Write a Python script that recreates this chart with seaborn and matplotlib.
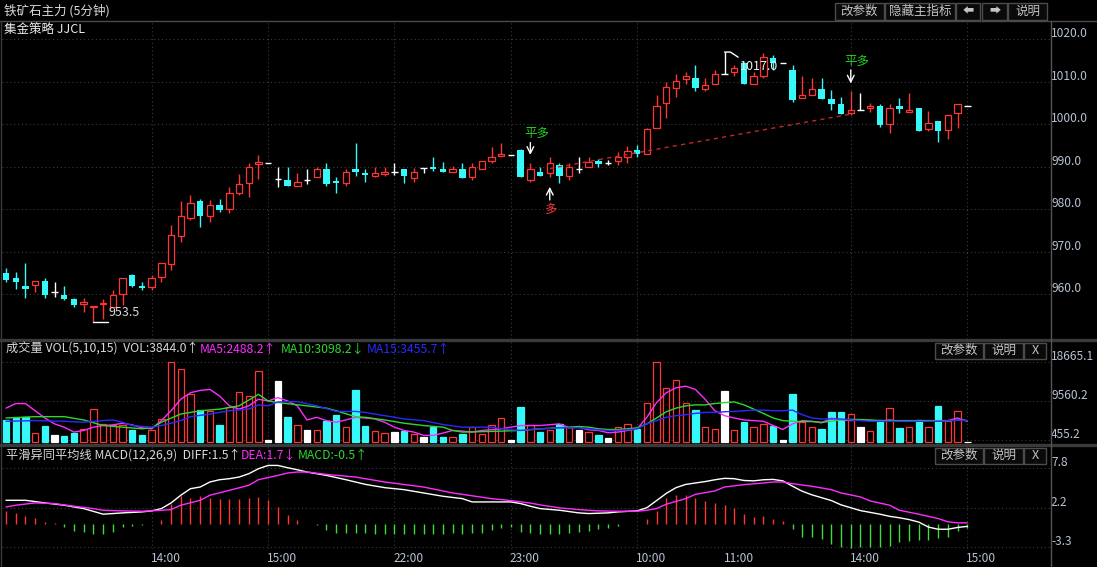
import matplotlib
matplotlib.use('Agg')
import matplotlib.pyplot as plt
import matplotlib.transforms as mtrans
from matplotlib.lines import Line2D
from matplotlib.patches import Rectangle
import seaborn as sns

## DATA

# 5-minute candles, index 0..99
opens = [964.9, 963.75, 962.0, 962.2, 963.2, 960.5, 959.8, 958.8, 957.6, 957.0,
         957.6, 957.1, 960.0, 964.5, 962.0, 961.8, 964.15, 967.1, 973.6, 977.9,
         982.0, 978.4, 981.0, 980.0, 983.9, 986.1, 990.6, 990.8, 987.05, 986.9,
         985.6, 986.9, 987.5, 989.4, 986.6, 986.1, 989.4, 988.5, 987.9, 988.3,
         988.7, 989.4, 987.4, 989.8, 990.0, 989.5, 988.85, 989.4, 987.5, 989.6,
         991.4, 992.5, 992.8, 993.95, 986.9, 988.7, 988.5, 990.4, 987.9, 989.4,
         990.0, 991.4, 991.0, 991.45, 992.4, 993.95, 992.9, 999.05, 1004.9, 1008.5,
         1010.6, 1010.8, 1008.3, 1009.5, 1011.8, 1012.2, 1014.35, 1009.4, 1011.4, 1015.5,
         1014.35, 1012.8, 1006.3, 1006.9, 1008.2, 1005.95, 1004.8, 1002.6, 1003.3, 1003.75,
         1004.3, 1000.0, 1004.3, 1003.0, 1003.75, 998.8, 1000.8, 998.7, 1002.6, 1004.2]
highs = [966.3, 965.3, 967.3, 963.2, 963.75, 962.8, 962.0, 959.1, 959.1, 957.3,
         958.8, 961.0, 963.75, 964.8, 962.8, 964.5, 967.3, 976.3, 982.0, 983.4,
         982.35, 982.2, 982.35, 985.3, 988.3, 990.8, 992.8, 990.8, 989.9, 989.9,
         988.5, 989.4, 990.0, 991.0, 987.5, 989.4, 995.7, 989.4, 989.9, 989.9,
         990.8, 989.4, 989.8, 989.8, 992.2, 991.2, 990.3, 990.8, 990.8, 991.4,
         994.7, 995.7, 992.8, 994.3, 990.8, 989.9, 992.2, 990.8, 990.8, 992.2,
         992.2, 991.8, 991.7, 993.6, 994.9, 995.1, 999.1, 1006.9, 1010.0, 1011.8,
         1012.2, 1013.95, 1010.8, 1012.8, 1017.0, 1013.95, 1014.6, 1012.2, 1016.7, 1016.3,
         1014.35, 1013.95, 1011.4, 1010.8, 1010.8, 1008.1, 1006.5, 1007.8, 1007.4, 1005.1,
         1004.8, 1004.8, 1006.3, 1007.4, 1003.75, 1003.2, 1000.8, 1002.3, 1004.7, 1004.2]
lows = [963.0, 961.2, 959.1, 960.6, 959.1, 959.4, 958.65, 957.1, 955.9, 953.5,
        954.3, 957.1, 957.5, 961.8, 961.0, 961.0, 963.0, 965.7, 972.4, 977.5,
        975.9, 977.1, 979.45, 979.1, 983.4, 983.0, 987.1, 990.8, 985.2, 985.6,
        985.6, 985.95, 987.5, 985.5, 983.9, 985.5, 987.8, 986.5, 987.5, 987.8,
        988.1, 986.1, 986.5, 988.5, 988.9, 988.85, 988.85, 987.4, 986.9, 989.6,
        991.0, 992.5, 992.8, 987.5, 986.5, 987.9, 987.5, 986.1, 986.9, 988.5,
        990.0, 990.0, 990.5, 990.4, 990.8, 992.4, 992.9, 999.05, 1001.6, 1006.5,
        1009.5, 1007.9, 1007.9, 1009.5, 1011.8, 1011.4, 1009.4, 1009.4, 1011.0, 1012.8,
        1014.35, 1005.3, 1006.1, 1006.9, 1005.95, 1003.4, 1002.4, 1002.2, 1003.3, 1003.0,
        999.3, 998.0, 1002.6, 1003.0, 998.5, 998.5, 995.9, 996.5, 999.05, 1004.2]
closes = [963.4, 963.0, 961.2, 963.2, 959.8, 960.5, 958.9, 957.5, 958.3, 957.3,
          958.0, 959.8, 963.75, 962.0, 961.4, 963.75, 967.3, 974.0, 978.4, 981.6,
          978.4, 981.0, 979.8, 983.8, 986.0, 989.9, 991.2, 990.8, 987.05, 985.6,
          986.35, 986.9, 989.4, 985.95, 986.1, 988.8, 988.85, 988.1, 988.5, 988.85,
          988.7, 987.8, 988.7, 989.8, 989.4, 988.85, 989.4, 987.4, 989.9, 991.4,
          992.2, 992.9, 992.8, 987.5, 989.4, 987.9, 990.8, 987.9, 990.0, 989.4,
          991.2, 990.6, 991.0, 992.3, 993.8, 992.9, 998.8, 1004.2, 1008.7, 1010.3,
          1011.4, 1008.5, 1009.2, 1011.8, 1011.8, 1013.2, 1009.4, 1011.4, 1015.9, 1014.5,
          1014.35, 1005.7, 1006.9, 1008.2, 1005.95, 1004.8, 1002.4, 1003.4, 1003.3, 1004.3,
          999.8, 1003.75, 1003.5, 1003.4, 998.5, 1000.2, 998.5, 1002.3, 1004.7, 1004.2]

volumes = [5168, 5624, 5928, 2204, 3876, 1596, 1368, 2204, 3116, 7676,
           4256, 4028, 4028, 2736, 1596, 2888, 5396, 18665.1, 17024, 11096,
           7448, 7144, 4104, 8056, 11628, 10716, 16568, 456, 14136, 5928,
           4028, 2736, 2736, 5016, 6384, 3648, 12008, 3876, 2508, 2204,
           2356, 2584, 1976, 1216, 3648, 1216, 1216, 1824, 3496, 1976,
           4028, 5624, 456, 8208, 4028, 2356, 2736, 4256, 3496, 2736,
           2356, 1596, 988, 3496, 4256, 3116, 9196, 18600, 12464, 14516,
           9196, 7448, 3648, 2964, 11856, 2736, 4636, 3648, 4256, 3876,
           456, 11096, 4636, 3496, 2964, 7068, 6916, 6536, 3496, 2508,
           5168, 7904, 3268, 3496, 5168, 3496, 8436, 4864, 7220, 0]

ma5_x = [0, 1, 2, 3, 4, 5, 6, 7, 8, 9, 10, 11, 12, 13, 14, 15, 16, 17, 18, 19,
         20, 21, 22, 23, 24, 25, 26, 27, 28, 29, 30, 31, 32, 33, 34, 35, 36, 37, 38, 39,
         40, 41, 42, 43, 44, 45, 46, 47, 48, 49, 50, 51, 53, 55, 57, 58, 59, 60, 61, 62,
         63, 64, 65, 66, 67, 68, 69, 70, 71, 72, 73, 74, 75, 76, 77, 78, 79, 80, 81, 82,
         83, 84, 85, 86, 87, 88, 89, 90, 91, 92, 93, 94, 95, 96, 97, 98, 99]
ma5_y = [7904, 8968, 8968, 7296, 5624, 4256, 3496, 2356, 2736, 3496,
         3876, 4028, 4408, 4028, 3344, 3116, 5016, 7296, 9956, 11476,
         12008, 12236, 10716, 8436, 7676, 8436, 9956, 9576, 10336, 9576,
         8436, 5168, 5776, 5016, 4636, 5168, 5776, 5624, 5396, 4636,
         3496, 2736, 2356, 1596, 1596, 2128, 2736, 2584, 2356, 2736,
         2888, 3116, 3876, 3876,
         4256, 3344, 3496, 2888, 2736, 2204, 2356, 2736, 3116, 5776,
         9196, 11476, 12616, 12996, 12236, 9956, 7296, 6156, 5624, 5168,
         5016, 4864, 3876, 2964, 4256, 5016, 4864, 4484, 5624, 5168,
         5016, 5168, 5016, 4864, 5168, 4864, 4864, 4864, 4864, 5016,
         5016, 5624, 4864]

ma10_x = [0, 3, 6, 8, 10, 12, 14, 15, 16, 18, 20, 22, 24, 26, 27, 28, 31, 33, 34, 36,
          37, 39, 41, 43, 45, 46, 47, 50, 53, 55, 57, 59, 60, 61, 62, 63, 64, 65, 66, 67,
          68, 69, 70, 71, 72, 73, 74, 75, 76, 77, 78, 79, 80, 81, 82, 83, 84, 85, 86, 87,
          88, 89, 90, 92, 94, 96, 97, 98, 99]
ma10_y = [5624, 5928, 5928, 5168, 3876, 3496, 3116, 3344, 4636, 6536,
          7296, 7676, 8436, 11096, 9576, 9196, 8436, 7904, 7296, 5928,
          5776, 5168, 4408, 3876, 3496, 2736, 2356, 2508, 2736, 3116,
          3344, 3648, 3496, 3116, 2964, 2964, 3116, 3344, 4256, 5624,
          7068, 7904, 8436, 8664, 8664, 8968, 9196, 9348, 8664, 7676,
          6688, 5624, 5016, 4864, 4788, 4788, 4636, 4864, 5168, 5320,
          5244, 5168, 5016, 5016, 5016, 5016, 4940, 5168, 5016]

ma15_x = [0, 3, 6, 8, 10, 11, 12, 13, 15, 16, 17, 18, 19, 21, 23, 25, 26, 27, 28, 30,
          32, 34, 36, 37, 39, 41, 43, 45, 47, 50, 52, 53, 55, 57, 59, 60, 61, 62, 63, 64,
          65, 66, 67, 68, 69, 70, 71, 72, 73, 74, 75, 76, 77, 78, 79, 80, 81, 82, 83, 84,
          85, 86, 87, 88, 89, 90, 92, 94, 96, 97, 98, 99]
ma15_y = [4864, 5016, 4864, 4636, 5016, 5168, 4636, 3876, 3496, 3876,
          4408, 5016, 5928, 6536, 7296, 7676, 8664, 8436, 9348, 9424,
          8436, 7144, 7144, 6916, 6156, 5396, 5016, 4104, 3496, 3496,
          2888, 2736, 3116, 3344, 3344, 3116, 2888, 2736, 2736, 2888,
          3116, 4256, 5016, 5776, 6156, 6384, 6688, 6916, 6916, 7068,
          7144, 7296, 7448, 7448, 7296, 7296, 7448, 6384, 5624, 5396,
          5396, 5396, 5168, 5016, 4864, 4864, 4864, 4864, 4864, 4940,
          5168, 5016]

macd_hist = [1.76, 1.48, 1.02, 0.83, 0.23, 0.05, -0.46, -1.02, -1.16, -1.48,
             -1.48, -1.16, -0.46, -0.32, -0.14, -0.09, 0.46, 2.78, 3.80, 3.61,
             3.80, 3.61, 3.47, 3.38, 3.38, 3.61, 3.70, 3.24, 2.31, 1.16,
             0.46, -0.09, -0.23, -0.93, -1.30, -1.30, -1.39, -1.39, -1.48, -1.48,
             -1.48, -1.53, -1.53, -1.53, -1.53, -1.48, -1.39, -1.48, -1.39, -1.30,
             -0.93, -0.69, -0.50, -1.16, -1.39, -1.48, -1.48, -1.48, -1.30, -1.16,
             -1.02, -0.83, -0.69, -0.37, -0.09, -0.05, 0.60, 1.71, 3.61, 3.94,
             3.94, 3.61, 3.10, 2.87, 2.55, 2.22, 1.30, 0.93, 1.02, 0.69,
             0.32, -0.83, -1.85, -1.94, -2.22, -2.87, -3.33, -3.47, -3.33, -3.24,
             -3.33, -3.15, -2.55, -2.45, -2.31, -2.31, -2.08, -1.85, -1.02, -0.56]

diff_x = [0, 2, 4, 6, 8, 10, 12, 14, 15, 16, 17, 18, 19, 20, 21, 22, 23, 24, 25, 26,
          27, 28, 29, 30, 31, 33, 35, 37, 39, 41, 43, 45, 47, 48, 50, 52, 53, 54, 55, 57,
          59, 60, 62, 63, 65, 66, 67, 68, 69, 70, 71, 72, 73, 74, 75, 76, 77, 78, 79, 80,
          81, 82, 83, 84, 85, 86, 87, 88, 89, 90, 91, 92, 93, 94, 95, 96, 97, 98, 99]
diff_y = [3.24, 3.24, 2.87, 2.55, 2.08, 1.30, 1.48, 1.62, 1.76, 2.08,
          2.87, 3.94, 4.86, 5.09, 5.79, 6.11, 6.25, 6.48, 6.94, 7.64,
          8.10, 8.10, 7.78, 7.50, 7.18, 6.71, 6.11, 5.46, 5.00, 4.72,
          4.26, 3.80, 3.47, 3.01, 3.01, 3.01, 2.78, 2.41, 2.08, 1.85,
          1.48, 1.39, 1.48, 1.62, 1.76, 2.2, 3.2, 4.2, 5.0, 5.45,
          5.65, 5.85, 6.1, 6.3, 6.25, 6.0, 5.95, 6.1, 6.15, 5.95,
          5.2, 4.5, 4.0, 3.6, 3.2, 2.6, 2.2, 1.8, 1.55, 1.3,
          1.0, 0.8, 0.55, 0.2, -0.5, -0.8, -0.8, -0.55, -0.4]

dea_x = [0, 1, 3, 5, 7, 9, 10, 12, 14, 15, 17, 18, 20, 21, 23, 25, 26, 28, 29, 30,
         31, 33, 36, 39, 43, 46, 50, 52, 54, 55, 57, 59, 61, 63, 65, 66, 67, 68, 70, 71,
         73, 74, 76, 78, 79, 80, 81, 83, 85, 86, 88, 89, 91, 92, 94, 96, 97, 98, 99]
dea_y = [2.31, 2.55, 2.87, 2.78, 2.41, 2.08, 1.85, 1.76, 1.71, 1.76,
         1.94, 2.55, 3.24, 3.94, 4.63, 5.32, 6.11, 6.71, 7.04, 7.18,
         7.18, 6.85, 6.48, 5.79, 5.09, 4.26, 3.47, 3.2, 2.85, 2.6,
         2.18, 1.94, 1.76, 1.71, 1.71, 1.85, 2.08, 2.69, 3.47, 4.07,
         4.54, 5.09, 5.42, 5.65, 5.79, 5.79, 5.56, 5.19, 4.72, 4.26,
         3.70, 3.15, 2.55, 1.85, 1.30, 0.69, 0.23, 0.09, 0.09]

time_idx = [15, 27, 40, 52, 65, 74, 87, 99]
time_labels = ['14:00', '15:00', '22:00', '23:00', '10:00', '11:00', '14:00', '15:00']
grid_idx = [15, 27, 40, 52, 65, 87, 99]

price_ticks = [1020, 1010, 1000, 990, 980, 970, 960]
vol_ticks = [18665.1, 9560.2, 455.2]
macd_ticks = [7.8, 2.2, -3.3]

# trade signals: (candle index, price)
entry_long = (56, 989.6)
exit_long = (87, 1002.4)

## STYLE
sns.set_theme(style='dark', rc={'axes.facecolor': 'black', 'figure.facecolor': 'black',
                                'savefig.facecolor': 'black'})
plt.rcParams['font.family'] = ['Noto Sans CJK SC', 'DejaVu Sans']

RED = '#ff3434'
CYAN = '#36f8f8'
WHITE = '#ffffff'
GREEN_T = '#20d020'
MAG = '#ff2cff'
GRID = '#3a3a3a'
AXTXT = '#b8c2d4'
TXT = '#d8d8d8'

FW, FH = 1097, 567
SP = 961.3 / 99          # pixels per candle


def frect(x0, y0, x1, y1):
    return [x0 / FW, 1 - y1 / FH, (x1 - x0) / FW, (y1 - y0) / FH]


fig = plt.figure(figsize=(FW / 100, FH / 100), dpi=100)

ax_k = fig.add_axes(frect(2, 21, 1050, 339))
ax_v = fig.add_axes(frect(2, 341, 1050, 444))
ax_m = fig.add_axes(frect(2, 446, 1050, 549))

XLIM = (-(6 - 2) / SP, (1050 - 6) / SP)

## PLOT 1 - CANDLES
x = list(range(len(opens)))
W = 0.66
wick_cols = []
for o, c in zip(opens, closes):
    wick_cols.append(RED if c > o else (CYAN if c < o else WHITE))
ax_k.vlines(x, lows, highs, colors=wick_cols, lw=1, zorder=2)

up = [i for i in x if closes[i] > opens[i]]
dn = [i for i in x if closes[i] < opens[i]]
eq = [i for i in x if closes[i] == opens[i]]
ax_k.bar(up, [closes[i] - opens[i] for i in up], bottom=[opens[i] for i in up],
         width=W, facecolor='black', edgecolor=RED, lw=0.9, zorder=3)
ax_k.bar(dn, [opens[i] - closes[i] for i in dn], bottom=[closes[i] for i in dn],
         width=W, color=CYAN, lw=0, zorder=3)
ax_k.hlines([opens[i] for i in eq], [i - W / 2 for i in eq], [i + W / 2 for i in eq],
            colors=WHITE, lw=1, zorder=3)

# trade line and signals
ax_k.plot([entry_long[0], exit_long[0]], [entry_long[1], exit_long[1]],
          color='#c02828', lw=1, ls=(0, (3, 3)), zorder=4)
ax_k.annotate('', xy=(54, 992.8), xytext=(54, 995.7),
              arrowprops=dict(arrowstyle='->', color=WHITE, lw=1, shrinkA=0, shrinkB=0), zorder=5)
ax_k.text(54.7, 997.9, '平多', color=GREEN_T, fontsize=9, ha='center', va='center', zorder=5)
ax_k.annotate('', xy=(56, 985.3), xytext=(56, 982.2),
              arrowprops=dict(arrowstyle='->', color=WHITE, lw=1, shrinkA=0, shrinkB=0), zorder=5)
ax_k.text(56.1, 980.0, '多', color=RED, fontsize=9, ha='center', va='center', zorder=5)
ax_k.annotate('', xy=(87, 1009.6), xytext=(87, 1012.8),
              arrowprops=dict(arrowstyle='->', color=WHITE, lw=1, shrinkA=0, shrinkB=0), zorder=5)
ax_k.text(87.6, 1014.8, '平多', color=GREEN_T, fontsize=9, ha='center', va='center', zorder=5)

# max / min markers
ax_k.plot([74, 74.6, 75.4], [1017.0, 1017.0, 1015.8], color=WHITE, lw=1, zorder=5)
ax_k.text(75.6, 1013.6, '1017.0', color='#f0f0f0', fontsize=9, ha='left', va='center', zorder=6)
ax_k.plot([9, 10.5], [953.5, 953.5], color=WHITE, lw=1, zorder=5)
ax_k.text(10.55, 955.6, '953.5', color=TXT, fontsize=9, ha='left', va='center', zorder=6)

ax_k.set_xlim(XLIM)
ax_k.set_ylim(949.48, 1024.31)

## PLOT 2 - VOLUME
vcol_face, vcol_edge = [], []
for i in x:
    if closes[i] > opens[i]:
        vcol_face.append('black'); vcol_edge.append(RED)
    elif closes[i] < opens[i]:
        vcol_face.append(CYAN); vcol_edge.append(CYAN)
    else:
        vcol_face.append(WHITE); vcol_edge.append(WHITE)
ax_v.bar(x, volumes, width=W, color=vcol_face, edgecolor=vcol_edge, lw=0.9, zorder=2)
sns.lineplot(x=ma5_x, y=ma5_y, ax=ax_v, color=MAG, lw=1, sort=False, estimator=None, legend=False, zorder=3)
sns.lineplot(x=ma10_x, y=ma10_y, ax=ax_v, color='#2ed82e', lw=1, sort=False, estimator=None, legend=False, zorder=3)
sns.lineplot(x=ma15_x, y=ma15_y, ax=ax_v, color='#2a2aff', lw=1, sort=False, estimator=None, legend=False, zorder=3)
ax_v.set_xlim(XLIM)
ax_v.set_ylim(-404, 23461)

## PLOT 3 - MACD
hist_cols = [RED if h > 0 else '#3cdc3c' for h in macd_hist]
ax_m.vlines(x, 0, macd_hist, colors=hist_cols, lw=1, zorder=2)
sns.lineplot(x=diff_x, y=diff_y, ax=ax_m, color=WHITE, lw=1, sort=False, estimator=None, legend=False, zorder=3)
sns.lineplot(x=dea_x, y=dea_y, ax=ax_m, color=MAG, lw=1, sort=False, estimator=None, legend=False, zorder=3)
ax_m.set_xlim(XLIM)
ax_m.set_ylim(-3.556, 10.81)

## gridlines, right axis labels
for ax, ticks, labels in [(ax_k, price_ticks, [f'{t:.1f}' for t in price_ticks]),
                          (ax_v, vol_ticks, [f'{t:.1f}' for t in vol_ticks]),
                          (ax_m, macd_ticks, [f'{t:.1f}' for t in macd_ticks])]:
    for gi in grid_idx:
        ax.axvline(gi, color=GRID, lw=0.8, ls=(0, (1, 2.5)), zorder=0)
    tr = mtrans.offset_copy(mtrans.blended_transform_factory(ax.transAxes, ax.transData),
                            fig=fig, x=1, y=2, units='dots')
    for t, s in zip(ticks, labels):
        ax.axhline(t, color=GRID, lw=0.8, ls=(0, (1, 2.5)), zorder=0)
        ax.text(1.0, t, s, transform=tr, color=AXTXT, fontsize=8.6, ha='left',
                va='baseline', clip_on=False)
    ax.set_xticks([])
    ax.set_yticks([])
    ax.set_xlabel('')
    ax.set_ylabel('')
    for sp in ax.spines.values():
        sp.set_visible(False)

# time axis labels
ttr = mtrans.blended_transform_factory(ax_m.transData, fig.transFigure)
for ti, lab in zip(time_idx, time_labels):
    ax_m.text(ti - 0.1, 1 - 558 / FH, lab, transform=ttr, color=AXTXT, fontsize=8.6,
              ha='left', va='center', clip_on=False)


## frame lines and header texts
def hline(y, x0=0, x1=FW, color='#4a4a4a', lw=1.0):
    fig.add_artist(Line2D([x0 / FW, x1 / FW], [1 - y / FH, 1 - y / FH],
                          transform=fig.transFigure, color=color, lw=lw))


def vline(xp, y0=0, y1=FH, color='#4a4a4a', lw=1.0):
    fig.add_artist(Line2D([xp / FW, xp / FW], [1 - y0 / FH, 1 - y1 / FH],
                          transform=fig.transFigure, color=color, lw=lw))


hline(20.5)
hline(339.8, color='#3a3a3a', lw=2.4)
hline(444.8, color='#3a3a3a', lw=2.4)
vline(1050.5, 20.5, FH, color='#555555')
vline(1.0, 20.5, FH, color='#3a3a3a')


def button(x0, x1, y0, y1, label, fs=9):
    fig.add_artist(Rectangle((x0 / FW, 1 - y1 / FH), (x1 - x0) / FW, (y1 - y0) / FH,
                             transform=fig.transFigure, facecolor='#0a0a0a',
                             edgecolor='#4c4c4c', lw=1))
    fig.text((x0 + x1) / 2 / FW, 1 - (y0 + y1) / 2 / FH, label, color='#c4c4c4',
             fontsize=fs, ha='center', va='center')


def ftext(xp, yp, s, color=TXT, fs=9):
    fig.text(xp / FW, 1 - yp / FH, s, color=color, fontsize=fs, ha='left', va='center')


ftext(4, 10.5, '铁矿石主力 (5分钟)')
ftext(4, 30, '集金策略 JJCL', color='#ececec')

button(835, 884, 2.5, 19.5, '改参数')
button(885, 955, 2.5, 19.5, '隐藏主指标')
button(956, 980, 2.5, 19.5, '⬅', fs=8)
button(982, 1007, 2.5, 19.5, '➡', fs=8)
button(1008, 1047, 2.5, 19.5, '说明')

for yb in (342.5, 447.5):
    button(935, 983, yb, yb + 16, '改参数')
    button(984, 1023, yb, yb + 16, '说明')
    button(1024, 1046, yb, yb + 16, 'X')

# volume header
ftext(6, 349, '成交量 VOL(5,10,15)  VOL:3844.0↑', fs=8.8)
ftext(200, 349, 'MA5:2488.2↑', color=MAG, fs=8.8)
ftext(281, 349, 'MA10:3098.2↓', color='#2ed82e', fs=8.8)
ftext(367, 349, 'MA15:3455.7↑', color='#2a2aff', fs=8.8)

# MACD header
ftext(6, 455, '平滑异同平均线 MACD(12,26,9)  DIFF:1.5↑', fs=8.8)
ftext(241, 455, 'DEA:1.7↓', color=MAG, fs=8.8)
ftext(298, 455, 'MACD:-0.5↑', color='#2ed82e', fs=8.8)

fig.savefig('out.png', dpi=100, facecolor='black')
